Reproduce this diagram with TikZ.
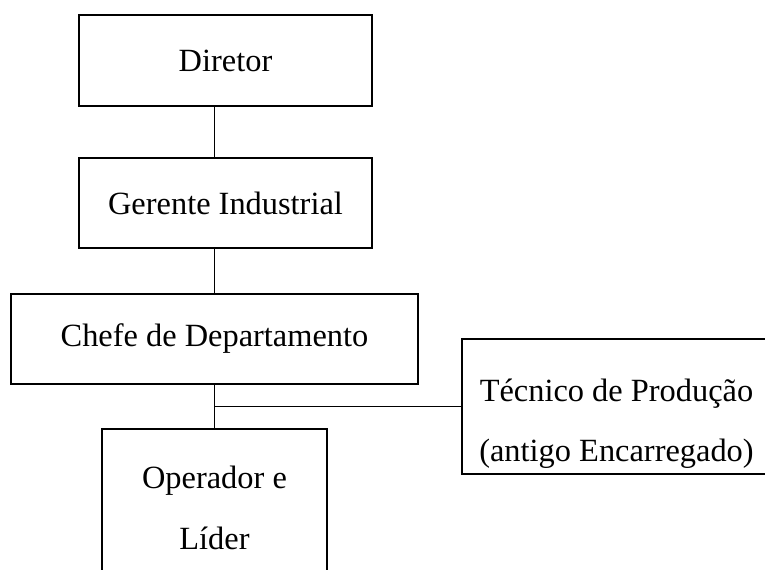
\documentclass[tikz,border=0pt]{standalone}
\usepackage{fontspec}
\setmainfont{Liberation Serif}
\begin{document}
\begin{tikzpicture}[x=0.75pt,y=-0.75pt,line width=1.4pt]
\tikzset{cargo/.style={draw,
                       inner sep=0pt,
                       font=\fontsize{24.3}{45.4}\selectfont,
                       align=center}
}
\clip (0,0) rectangle (765,570);
\node[cargo,minimum width=219.75pt,minimum height=68.25pt] (dir) at (225.5,60.5) {Diretor};
\node[cargo,minimum width=219.75pt,minimum height=67.5pt]  (ger) at (225.5,203)  {Gerente Industrial};
\node[cargo,minimum width=305.25pt,minimum height=67.5pt]  (chf) at (214.5,339)  {Chefe de Departamento};
\node[cargo,minimum width=168.75pt,minimum height=118.5pt] (op)  at (214.5,508)  {Operador e\\Líder};
\node[cargo,minimum width=231.75pt,minimum height=101.25pt,
      text height=90pt,text depth=6.75pt] (tec) at (616.5,406.5) {Técnico de Produção\\(antigo Encarregado)};
\draw (dir.south -| chf.center) -- (ger.north -| chf.center);
\draw (ger.south -| chf.center) -- (chf.north);
\draw (chf.south) -- (op.north);
\draw (tec.west) -- (tec.west -| chf.south);
\end{tikzpicture}
\end{document}
